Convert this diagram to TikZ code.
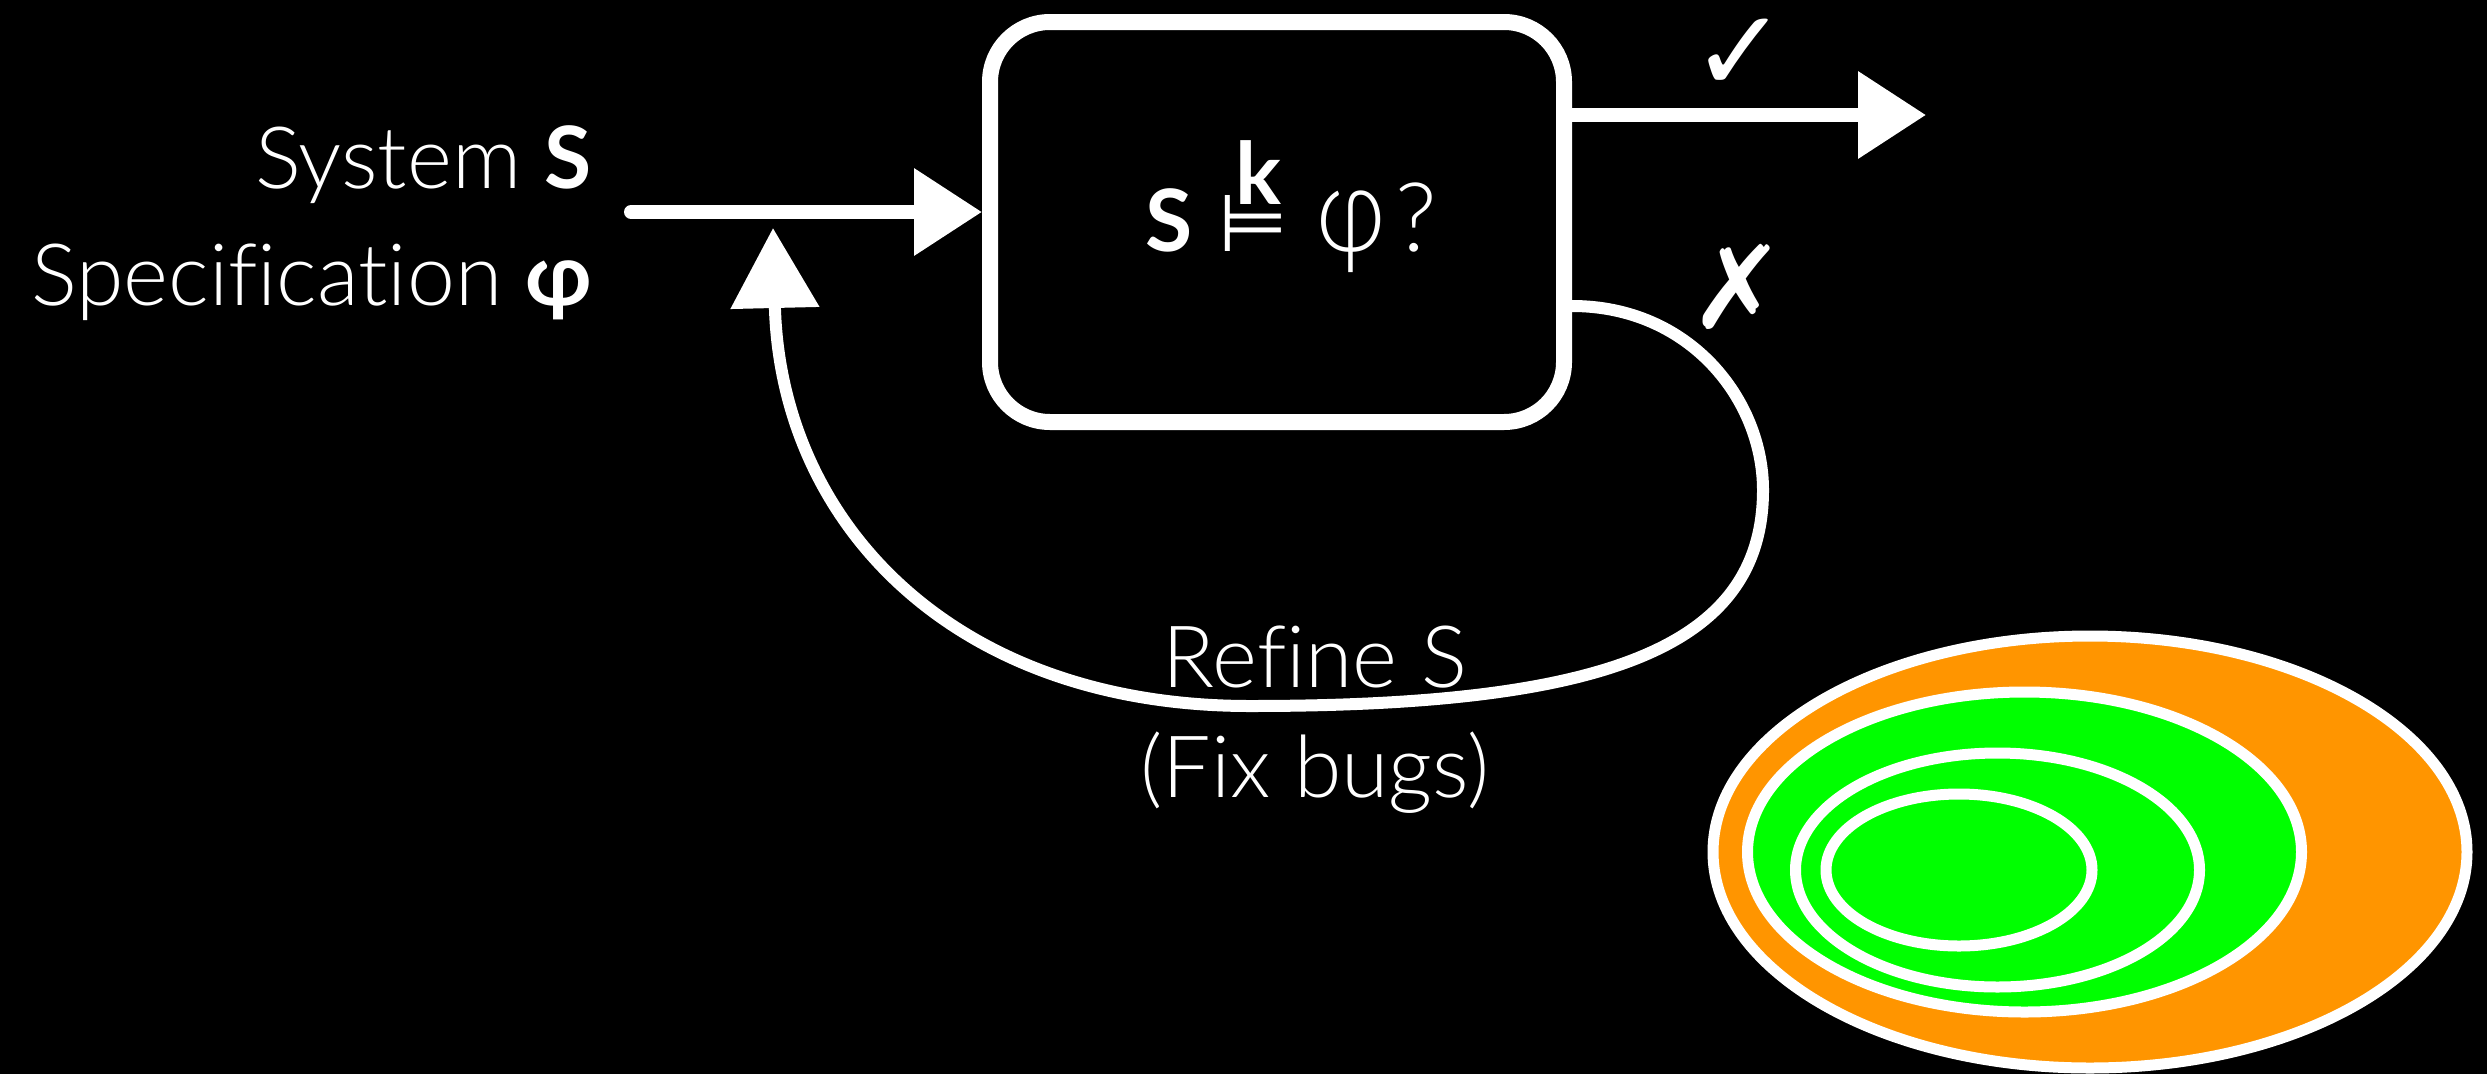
\documentclass[tikz,border=0pt]{standalone}
\usepackage{fontspec}
\setmainfont{Lato}[UprightFont=* Light, BoldFont=* Bold, Ligatures=CommonOff]
\newfontfamily\symfont{DejaVu Sans}
\usetikzlibrary{arrows.meta}
\definecolor{orng}{RGB}{255,149,0}
\definecolor{grn}{RGB}{0,255,0}
\newcommand{\modelsk}{\makebox[0pt][l]{\hspace{17pt}\raisebox{47pt}{\textbf{k}}}{\symfont\fontsize{80}{80}\selectfont ⊨}}
\tikzset{
  lbl/.style={text=white, inner sep=0pt, font=\fontsize{86}{100}\selectfont},
  boxlbl/.style={text=white, inner sep=0pt, font=\fontsize{86}{90}\selectfont},
  verdict/.style={text=white, inner sep=0pt, font=\symfont\fontsize{115}{120}\selectfont},
  chk/.style={draw=white, line width=16pt, fill=black, rounded corners=60pt,
    minimum width=574pt, minimum height=400pt, inner sep=0pt},
  conn/.style={draw=white, line width=14pt,
    -{Triangle[length=68pt, width=84pt]}},
  loopconn/.style={draw=white, line width=12pt,
    -{Triangle[length=80pt, width=86pt]}},
  setell/.style={draw=white, line width=11pt},
}
\begin{document}
\begin{tikzpicture}[x=1pt, y=-1pt]
  \fill[black] (0,0) rectangle (2487,1074);
  \useasboundingbox (0,0) rectangle (2487,1074);

  % left labels
  \node[lbl, anchor=base east] (sys) at (592,188) {System \textbf{S}};
  \node[lbl, anchor=base east] (spec) at (592,305) {Specification \textbf{φ}};

  % check box
  \node[chk] (box) at (1277,222) {};
  \node[boxlbl, anchor=base west] (query) at (1145,251)
    {\textbf{S}\hspace{26pt}\modelsk\hspace{28pt}\scalebox{1}[1.2]{\fontsize{100}{100}\selectfont φ}\hspace{10pt}{\fontsize{96}{96}\selectfont ?}};

  % input connector
  \coordinate (inStart) at (631,212);
  \draw[conn, line cap=round] (inStart) -- (inStart -| box.west);

  % output connector
  \coordinate (outStart) at (1573,115);
  \coordinate (outEnd) at (1926,115);
  \draw[conn] (outStart -| box.east) -- (outEnd);
  \node[verdict] (ok) at (1740,55) {✓};

  % feedback loop
  \coordinate (loopStart) at (1573,306);
  \coordinate (loopEnd) at (773,228);
  \draw[loopconn] (loopStart -| box.east)
    .. controls (1690,306) and (1763,400) .. (1763,490)
    .. controls (1763,650) and (1600,706) .. (1250,706)
    .. controls (950,706) and (780,520) .. (loopEnd);
  \node[verdict] (bad) at (1738,287) {✗};

  \node[lbl, anchor=base] (refine) at (1315,687) {Refine S};
  \node[lbl, anchor=base] (fix) at (1315,797) {(Fix bugs)};

  % nested sets
  \draw[setell, fill=orng] (2090,852) ellipse [x radius=377pt, y radius=216pt];
  \draw[setell, fill=grn] (2024.5,852) ellipse [x radius=277pt, y radius=160pt];
  \draw[setell, fill=grn] (1997.5,870) ellipse [x radius=202pt, y radius=117pt];
  \draw[setell, fill=grn] (1959,870) ellipse [x radius=133pt, y radius=76pt];
\end{tikzpicture}
\end{document}
